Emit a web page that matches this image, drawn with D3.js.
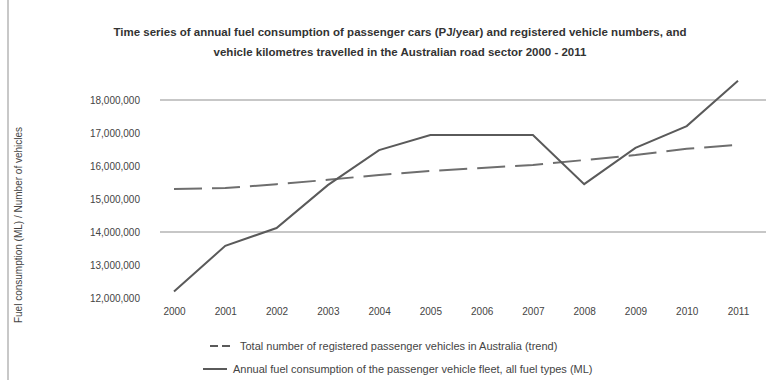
<!DOCTYPE html>
<html>
<head>
<meta charset="utf-8">
<script src="https://cdn.jsdelivr.net/npm/d3@7"></script>
<style>
  html, body { margin: 0; padding: 0; background: #fff; }
  svg { display: block; font-family: "Liberation Sans", Arial, sans-serif; }
</style>
</head>
<body>
<svg id="chart" width="768" height="380"></svg>
<script>
// Years on the category axis
const years = ["2000", "2001", "2002", "2003", "2004", "2005", "2006", "2007", "2008", "2009", "2010", "2011"];

// Annual fuel consumption of the passenger fleet
const fuelConsumption = [12200000, 13580000, 14120000, 15420000, 16480000, 16940000, 16940000, 16940000, 15450000, 16550000, 17210000, 18580000];

// Registered passenger vehicles (trend)
const vehicleNumbers = [15300000, 15330000, 15450000, 15580000, 15730000, 15850000, 15940000, 16030000, 16180000, 16330000, 16520000, 16640000];

// Value axis ticks
const yTicks = [12000000, 13000000, 14000000, 15000000, 16000000, 17000000, 18000000];
const gridTicks = [14000000, 18000000];

const titleLines = [
  "Time series of annual fuel consumption of passenger cars (PJ/year) and registered vehicle numbers, and",
  "vehicle kilometres travelled in the Australian road sector 2000 - 2011"
];
const yAxisTitle = "Fuel consumption (ML) / Number of vehicles";
const legendLabels = [
  "Total number of registered passenger vehicles in Australia (trend)",
  "Annual fuel consumption of the passenger vehicle fleet, all fuel types (ML)"
];

const svg = d3.select("#chart");
const W = 768, H = 380;

// Chart frame
svg.append("line").attr("x1", 8).attr("x2", 8).attr("y1", 0).attr("y2", H)
  .attr("stroke", "#c8c8c8").attr("stroke-width", 2);

const x = d3.scalePoint().domain(years).range([174, 738]);
const y = d3.scaleLinear().domain([12000000, 18000000]).range([298, 100]);

// Title
svg.append("g").selectAll("text").data(titleLines).join("text")
  .attr("x", 400).attr("y", (d, i) => 36 + i * 20)
  .attr("text-anchor", "middle")
  .attr("font-size", 11.5).attr("font-weight", "bold").attr("fill", "#333")
  .text(d => d);

// Grid lines
svg.append("g").selectAll("line").data(gridTicks).join("line")
  .attr("x1", 160).attr("x2", 766)
  .attr("y1", d => y(d)).attr("y2", d => y(d))
  .attr("stroke", "#b4b4b4").attr("stroke-width", 1.5);

// Y axis labels
const yAxis = d3.axisLeft(y).tickValues(yTicks).tickSize(0).tickPadding(0)
  .tickFormat(d3.format(","));
svg.append("g").attr("transform", "translate(140,0)").call(yAxis)
  .call(g => g.select(".domain").remove())
  .call(g => g.selectAll("text").attr("font-size", 10).attr("fill", "#444")
    .attr("font-family", "'Liberation Sans', Arial, sans-serif"));

// Y axis title
svg.append("text")
  .attr("transform", "translate(22,225) rotate(-90)")
  .attr("text-anchor", "middle").attr("font-size", 10).attr("fill", "#444")
  .text(yAxisTitle);

// X axis labels
const xAxis = d3.axisBottom(x).tickSize(0).tickPadding(0);
svg.append("g").attr("transform", "translate(0,308)").call(xAxis)
  .call(g => g.select(".domain").remove())
  .call(g => g.selectAll("text").attr("font-size", 10).attr("fill", "#444")
    .attr("font-family", "'Liberation Sans', Arial, sans-serif"));

const line = d3.line().x((d, i) => x(years[i])).y(d => y(d));

// Vehicle numbers: dashed trend
svg.append("path").datum(vehicleNumbers)
  .attr("d", line).attr("fill", "none")
  .attr("stroke", "#6e6e6e").attr("stroke-width", 2)
  .attr("stroke-dasharray", "28,10");

// Fuel consumption: solid line
svg.append("path").datum(fuelConsumption)
  .attr("d", line).attr("fill", "none")
  .attr("stroke", "#5a5a5a").attr("stroke-width", 2);

// Legend
const legend = svg.append("g");
const legendItems = [
  { label: legendLabels[0], dash: "8,4", y: 350, sx: 210 },
  { label: legendLabels[1], dash: null, y: 373, sx: 203 }
];
legendItems.forEach(it => {
  legend.append("line")
    .attr("x1", it.sx).attr("x2", it.sx + 24).attr("y1", it.y - 4).attr("y2", it.y - 4)
    .attr("stroke", "#5a5a5a").attr("stroke-width", 2)
    .attr("stroke-dasharray", it.dash);
  legend.append("text")
    .attr("x", it.sx + 30).attr("y", it.y)
    .attr("font-size", 11).attr("fill", "#444")
    .text(it.label);
});
</script>
</body>
</html>
